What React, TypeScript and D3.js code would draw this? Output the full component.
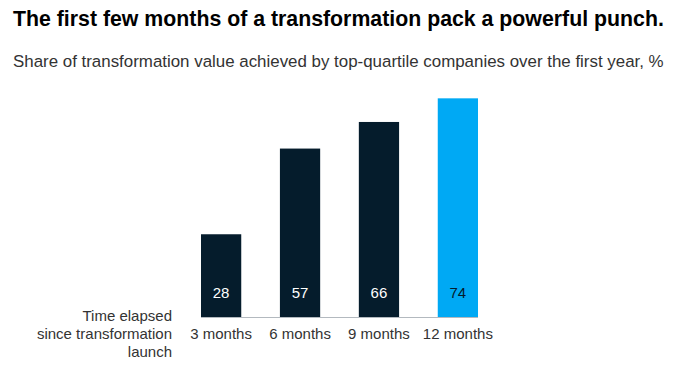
import React, { useRef, useEffect } from 'react';
import * as d3 from 'd3';

const categories = ['3 months', '6 months', '9 months', '12 months'];
const values = [28, 57, 66, 74];
const axisTitle = ['Time elapsed', 'since transformation', 'launch'];

const title = 'The first few months of a transformation pack a powerful punch.';
const subtitle = 'Share of transformation value achieved by top-quartile companies over the first year, %';

const App = () => {
  const svgRef = useRef<SVGSVGElement | null>(null);
  const width = 678;
  const height = 385;

  useEffect(() => {
    if (!svgRef.current) return;
    const svg = d3.select(svgRef.current);
    svg.selectAll('*').remove();

    const font = '"Liberation Sans", Arial, sans-serif';
    const navy = '#051c2c';
    const blue = '#00a9f4';

    // Scales
    const xScale = d3.scaleBand<string>()
      .domain(categories)
      .range([201, 478])
      .paddingInner(0.49)
      .paddingOuter(0);

    const yScale = d3.scaleLinear()
      .domain([0, 100])
      .range([317, 21.5]);

    // Title + subtitle
    svg.append('text')
      .attr('x', 13)
      .attr('y', 26)
      .attr('font-family', font)
      .attr('font-weight', 'bold')
      .attr('font-size', 21.3)
      .attr('fill', '#000')
      .text(title);

    svg.append('text')
      .attr('x', 13)
      .attr('y', 67)
      .attr('font-family', font)
      .attr('font-size', 16.9)
      .attr('fill', '#333')
      .text(subtitle);

    // Bars
    svg.selectAll('.bar')
      .data(values)
      .enter()
      .append('rect')
      .attr('class', 'bar')
      .attr('x', (d, i) => xScale(categories[i]) as number)
      .attr('y', d => yScale(d))
      .attr('width', xScale.bandwidth())
      .attr('height', d => yScale(0) - yScale(d))
      .attr('fill', (d, i) => i === values.length - 1 ? blue : navy);

    // Baseline
    svg.append('line')
      .attr('x1', xScale.range()[0])
      .attr('x2', xScale.range()[1])
      .attr('y1', yScale(0) + 0.5)
      .attr('y2', yScale(0) + 0.5)
      .attr('stroke', '#b3b9bf')
      .attr('stroke-width', 1);

    // Value labels inside bars
    svg.selectAll('.val')
      .data(values)
      .enter()
      .append('text')
      .attr('class', 'val')
      .attr('x', (d, i) => (xScale(categories[i]) as number) + xScale.bandwidth() / 2)
      .attr('y', yScale(0) - 19)
      .attr('text-anchor', 'middle')
      .attr('font-family', font)
      .attr('font-size', 15)
      .attr('fill', (d, i) => i === values.length - 1 ? navy : '#fff')
      .text(d => d);

    // Category labels
    svg.selectAll('.cat')
      .data(categories)
      .enter()
      .append('text')
      .attr('class', 'cat')
      .attr('x', d => (xScale(d) as number) + xScale.bandwidth() / 2)
      .attr('y', 339)
      .attr('text-anchor', 'middle')
      .attr('font-family', font)
      .attr('font-size', 15)
      .attr('fill', '#333')
      .text(d => d);

    // Axis title on the left
    svg.selectAll('.axt')
      .data(axisTitle)
      .enter()
      .append('text')
      .attr('class', 'axt')
      .attr('x', 172)
      .attr('y', (d, i) => 321 + i * 18)
      .attr('text-anchor', 'end')
      .attr('font-family', font)
      .attr('font-size', 15)
      .attr('fill', '#333')
      .text(d => d);
  }, []);

  return (
    <svg
      ref={svgRef}
      width={width}
      height={height}
      style={{ position: 'absolute', left: 0, top: 0, background: '#fff' }}
    />
  );
};

export default App;
